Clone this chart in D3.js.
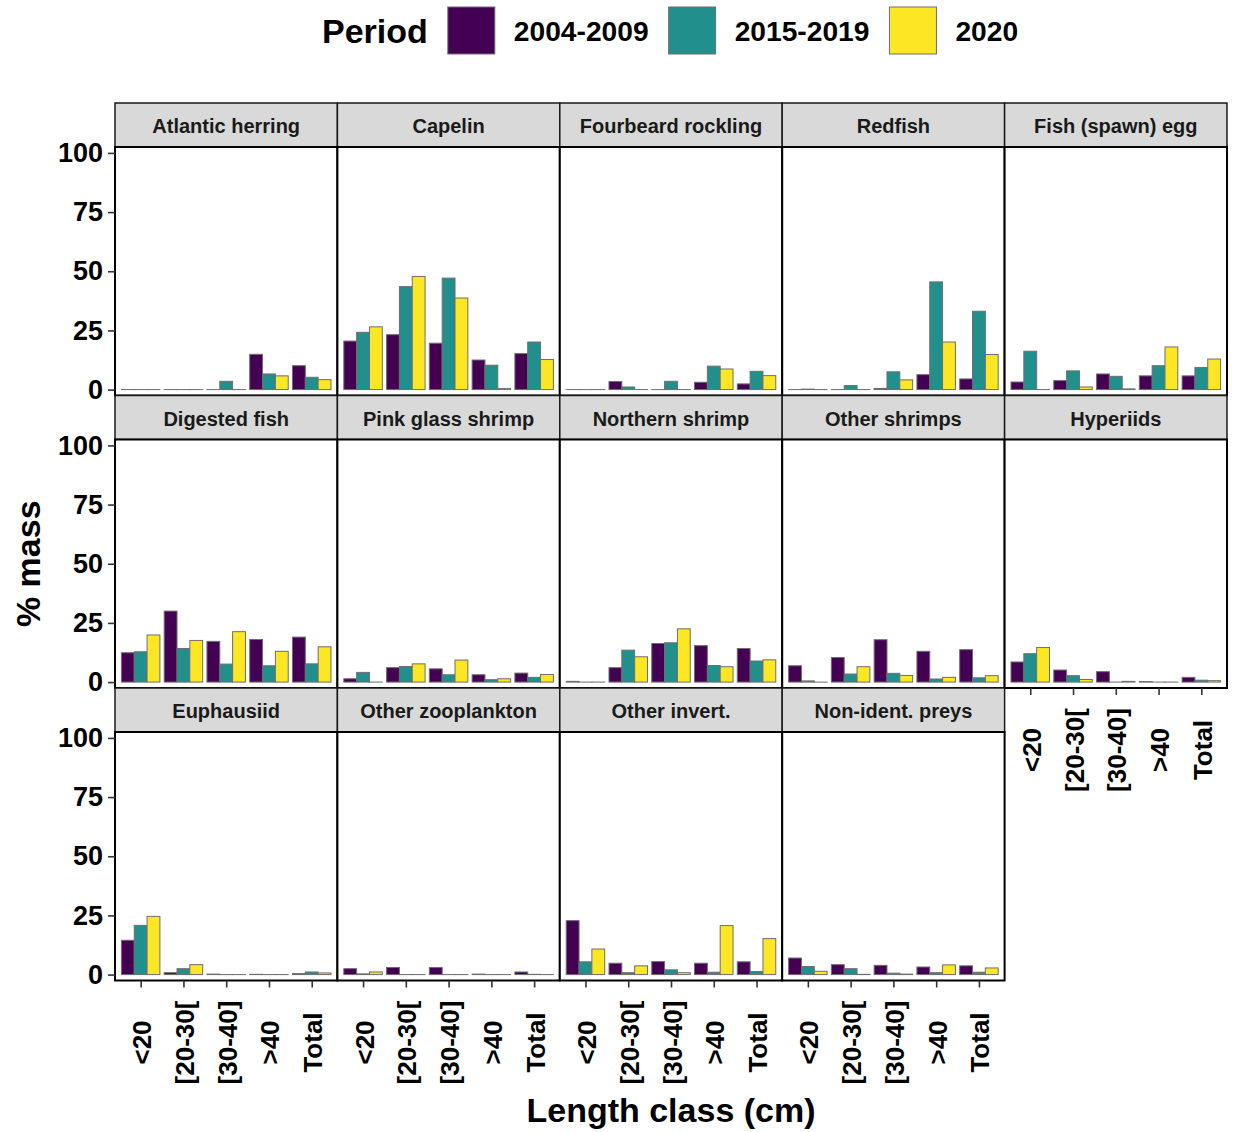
<!DOCTYPE html>
<html>
<head>
<meta charset="utf-8">
<script src="https://cdn.jsdelivr.net/npm/d3@7"></script>
<style>
  html, body { margin: 0; padding: 0; background: #fff; }
  svg { display: block; font-family: "Liberation Sans", Arial, sans-serif; }
</style>
</head>
<body>
<svg id="chart" width="1233" height="1132"></svg>
<script>
// ---------------- data ----------------
const lengthClasses = ["<20", "[20-30[", "[30-40]", ">40", "Total"];
const periods = ["2004-2009", "2015-2019", "2020"];
const periodColors = ["#440154", "#21908C", "#FDE725"];
const preys = ["Atlantic herring", "Capelin", "Fourbeard rockling", "Redfish", "Fish (spawn) egg",
               "Digested fish", "Pink glass shrimp", "Northern shrimp", "Other shrimps", "Hyperiids",
               "Euphausiid", "Other zooplankton", "Other invert.", "Non-ident. preys"];
const yTicks = [0, 25, 50, 75, 100];

// % mass per prey (rows, in prey order) and length class (columns)
const period2004_2009 = [
  [0, 0, 0, 14.9, 10.1],
  [20.5, 23.2, 19.6, 12.5, 15.2],
  [0, 3.4, 0, 3.1, 2.4],
  [0, 0, 0.5, 6.3, 4.5],
  [3.2, 3.8, 6.6, 5.8, 5.8],
  [12.4, 30.0, 17.2, 18.0, 19.0],
  [1.4, 6.1, 5.6, 3.1, 3.8],
  [0.3, 6.1, 16.3, 15.4, 14.2],
  [6.9, 10.4, 17.9, 13.0, 13.7],
  [8.5, 5.1, 4.4, 0.2, 2.0],
  [14.5, 0.8, 0.2, 0.1, 0.4],
  [2.5, 3.0, 3.0, 0.2, 1.1],
  [22.8, 4.8, 5.5, 4.8, 5.4],
  [7.0, 4.2, 3.9, 3.2, 3.7]
];
const period2015_2019 = [
  [0, 0, 3.5, 6.6, 5.2],
  [24.2, 43.5, 47.1, 10.3, 20.1],
  [0, 1.1, 3.5, 9.9, 7.7],
  [0.2, 1.7, 7.5, 45.5, 33.1],
  [16.2, 7.9, 5.6, 10.1, 9.3],
  [12.8, 14.2, 7.6, 6.9, 7.7],
  [4.1, 6.6, 3.1, 1.0, 2.0],
  [0, 13.5, 16.6, 7.0, 8.9],
  [0.5, 3.4, 3.7, 1.3, 1.8],
  [12.0, 2.7, 0, 0, 0.8],
  [20.8, 2.5, 0, 0, 1.1],
  [0.3, 0, 0, 0, 0.1],
  [5.4, 0.8, 2.0, 1.0, 1.3],
  [3.4, 2.5, 0.6, 0.8, 1.0]
];
const period2020 = [
  [0, 0, 0, 5.8, 4.2],
  [26.5, 47.8, 38.7, 0.5, 12.7],
  [0, 0, 0, 8.7, 5.9],
  [0, 0, 4.1, 20.1, 14.8],
  [0, 1.1, 0.3, 18.0, 12.9],
  [19.9, 17.6, 21.3, 13.0, 14.9],
  [0, 7.7, 9.3, 1.4, 3.2],
  [0, 10.7, 22.5, 6.5, 9.4],
  [0, 6.5, 2.8, 2.0, 2.7],
  [14.6, 1.1, 0.3, 0, 0.6],
  [24.6, 4.2, 0, 0, 0.7],
  [1.1, 0, 0, 0, 0],
  [10.8, 3.7, 0.8, 20.7, 15.2],
  [1.4, 0.1, 0.2, 4.1, 2.8]
];
const seriesByPeriod = [period2004_2009, period2015_2019, period2020];

// ---------------- layout ----------------
(function () {
const svg = d3.select("#chart");
const gridLeft = 115, gridRight = 1227, gridTop = 103;
const ncol = 5;
const stripH = 44, panelH = 248.5;
const colW = (gridRight - gridLeft) / ncol;
const font = "'Liberation Sans', Arial, sans-serif";

const x = d3.scalePoint().domain(lengthClasses).range([0, colW]).padding(0.6);
const step = x.step();
const xSub = d3.scaleBand().domain(periods).range([-0.45 * step, 0.45 * step]).padding(0);
const y = d3.scaleLinear().domain([-2.5, 102.5]).range([panelH, 0]);
const color = d3.scaleOrdinal().domain(periods).range(periodColors);

const nrow = Math.ceil(preys.length / ncol);

preys.forEach((prey, i) => {
  const col = i % ncol, row = Math.floor(i / ncol);
  const x0 = gridLeft + col * colW;
  const y0 = gridTop + row * (stripH + panelH);
  const g = svg.append("g").attr("transform", `translate(${x0},${y0})`);

  // strip
  g.append("rect").attr("x", 0).attr("y", 0).attr("width", colW).attr("height", stripH)
    .attr("fill", "#D9D9D9").attr("stroke", "#1a1a1a").attr("stroke-width", 1.5);
  g.append("text").attr("x", colW / 2).attr("y", stripH / 2 + 1)
    .attr("text-anchor", "middle").attr("dominant-baseline", "central")
    .attr("font-family", font).attr("font-weight", "bold").attr("font-size", 20)
    .attr("fill", "#1a1a1a").text(prey);

  const p = g.append("g").attr("transform", `translate(0,${stripH})`);
  p.append("rect").attr("width", colW).attr("height", panelH).attr("fill", "#fff");

  // bars (zero values still show their outline, as in the original)
  lengthClasses.forEach((lc, j) => {
    periods.forEach((per, k) => {
      const v = seriesByPeriod[k][i][j];
      const bx = x(lc) + xSub(per);
      p.append("rect")
        .attr("x", bx).attr("width", xSub.bandwidth())
        .attr("y", y(v)).attr("height", Math.max(0.01, y(0) - y(v)))
        .attr("fill", color(per)).attr("stroke", "#6e6e6e").attr("stroke-width", 1);
    });
  });

  // panel border
  p.append("rect").attr("width", colW).attr("height", panelH)
    .attr("fill", "none").attr("stroke", "#000").attr("stroke-width", 2);

  // y axis
  if (col === 0) {
    const ya = p.append("g").call(d3.axisLeft(y).tickValues(yTicks).tickSize(7).tickPadding(5));
    ya.select(".domain").remove();
    ya.selectAll(".tick line").attr("stroke", "#333").attr("stroke-width", 1.6);
    ya.selectAll(".tick text").attr("font-family", font).attr("font-weight", "bold")
      .attr("font-size", 27).attr("fill", "#000");
  }
  // x axis where nothing below
  const hasBelow = (i + ncol) < preys.length;
  if (!hasBelow) {
    const xa = p.append("g").attr("transform", `translate(0,${panelH})`)
      .call(d3.axisBottom(x).tickSize(7).tickPadding(0));
    xa.select(".domain").remove();
    xa.selectAll(".tick line").attr("stroke", "#333").attr("stroke-width", 1.6);
    xa.selectAll(".tick text")
      .attr("font-family", font).attr("font-weight", "bold").attr("font-size", 26).attr("fill", "#000")
      .attr("text-anchor", "middle").attr("dominant-baseline", "central")
      .attr("dy", null).attr("y", 0)
      .attr("transform", "translate(1,62) rotate(-90)");
  }
});

// axis titles
const panelsTop = gridTop + stripH;
const panelsBottom = gridTop + nrow * (stripH + panelH);
svg.append("text")
  .attr("transform", `translate(28,${(panelsTop + panelsBottom) / 2}) rotate(-90)`)
  .attr("text-anchor", "middle").attr("dominant-baseline", "central")
  .attr("font-family", font).attr("font-weight", "bold").attr("font-size", 34).attr("fill", "#000")
  .text("% mass");
svg.append("text")
  .attr("x", (gridLeft + gridRight) / 2).attr("y", 1122)
  .attr("text-anchor", "middle")
  .attr("font-family", font).attr("font-weight", "bold").attr("font-size", 34).attr("fill", "#000")
  .text("Length class (cm)");

// legend
const leg = svg.append("g");
const title = leg.append("text").attr("x", 322).attr("y", 43)
  .attr("font-family", font).attr("font-weight", "bold").attr("font-size", 34).attr("fill", "#000")
  .text("Period");
let cx = 322 + title.node().getComputedTextLength() + 20;
periods.forEach((per, k) => {
  leg.append("rect").attr("x", cx).attr("y", 7).attr("width", 47).attr("height", 47)
    .attr("fill", color(per)).attr("stroke", "#6e6e6e").attr("stroke-width", 1);
  const t = leg.append("text").attr("x", cx + 47 + 19).attr("y", 41)
    .attr("font-family", font).attr("font-weight", "bold").attr("font-size", 28.2).attr("fill", "#000")
    .text(per);
  cx = cx + 47 + 19 + t.node().getComputedTextLength() + 20;
});
})();
</script>
</body>
</html>
